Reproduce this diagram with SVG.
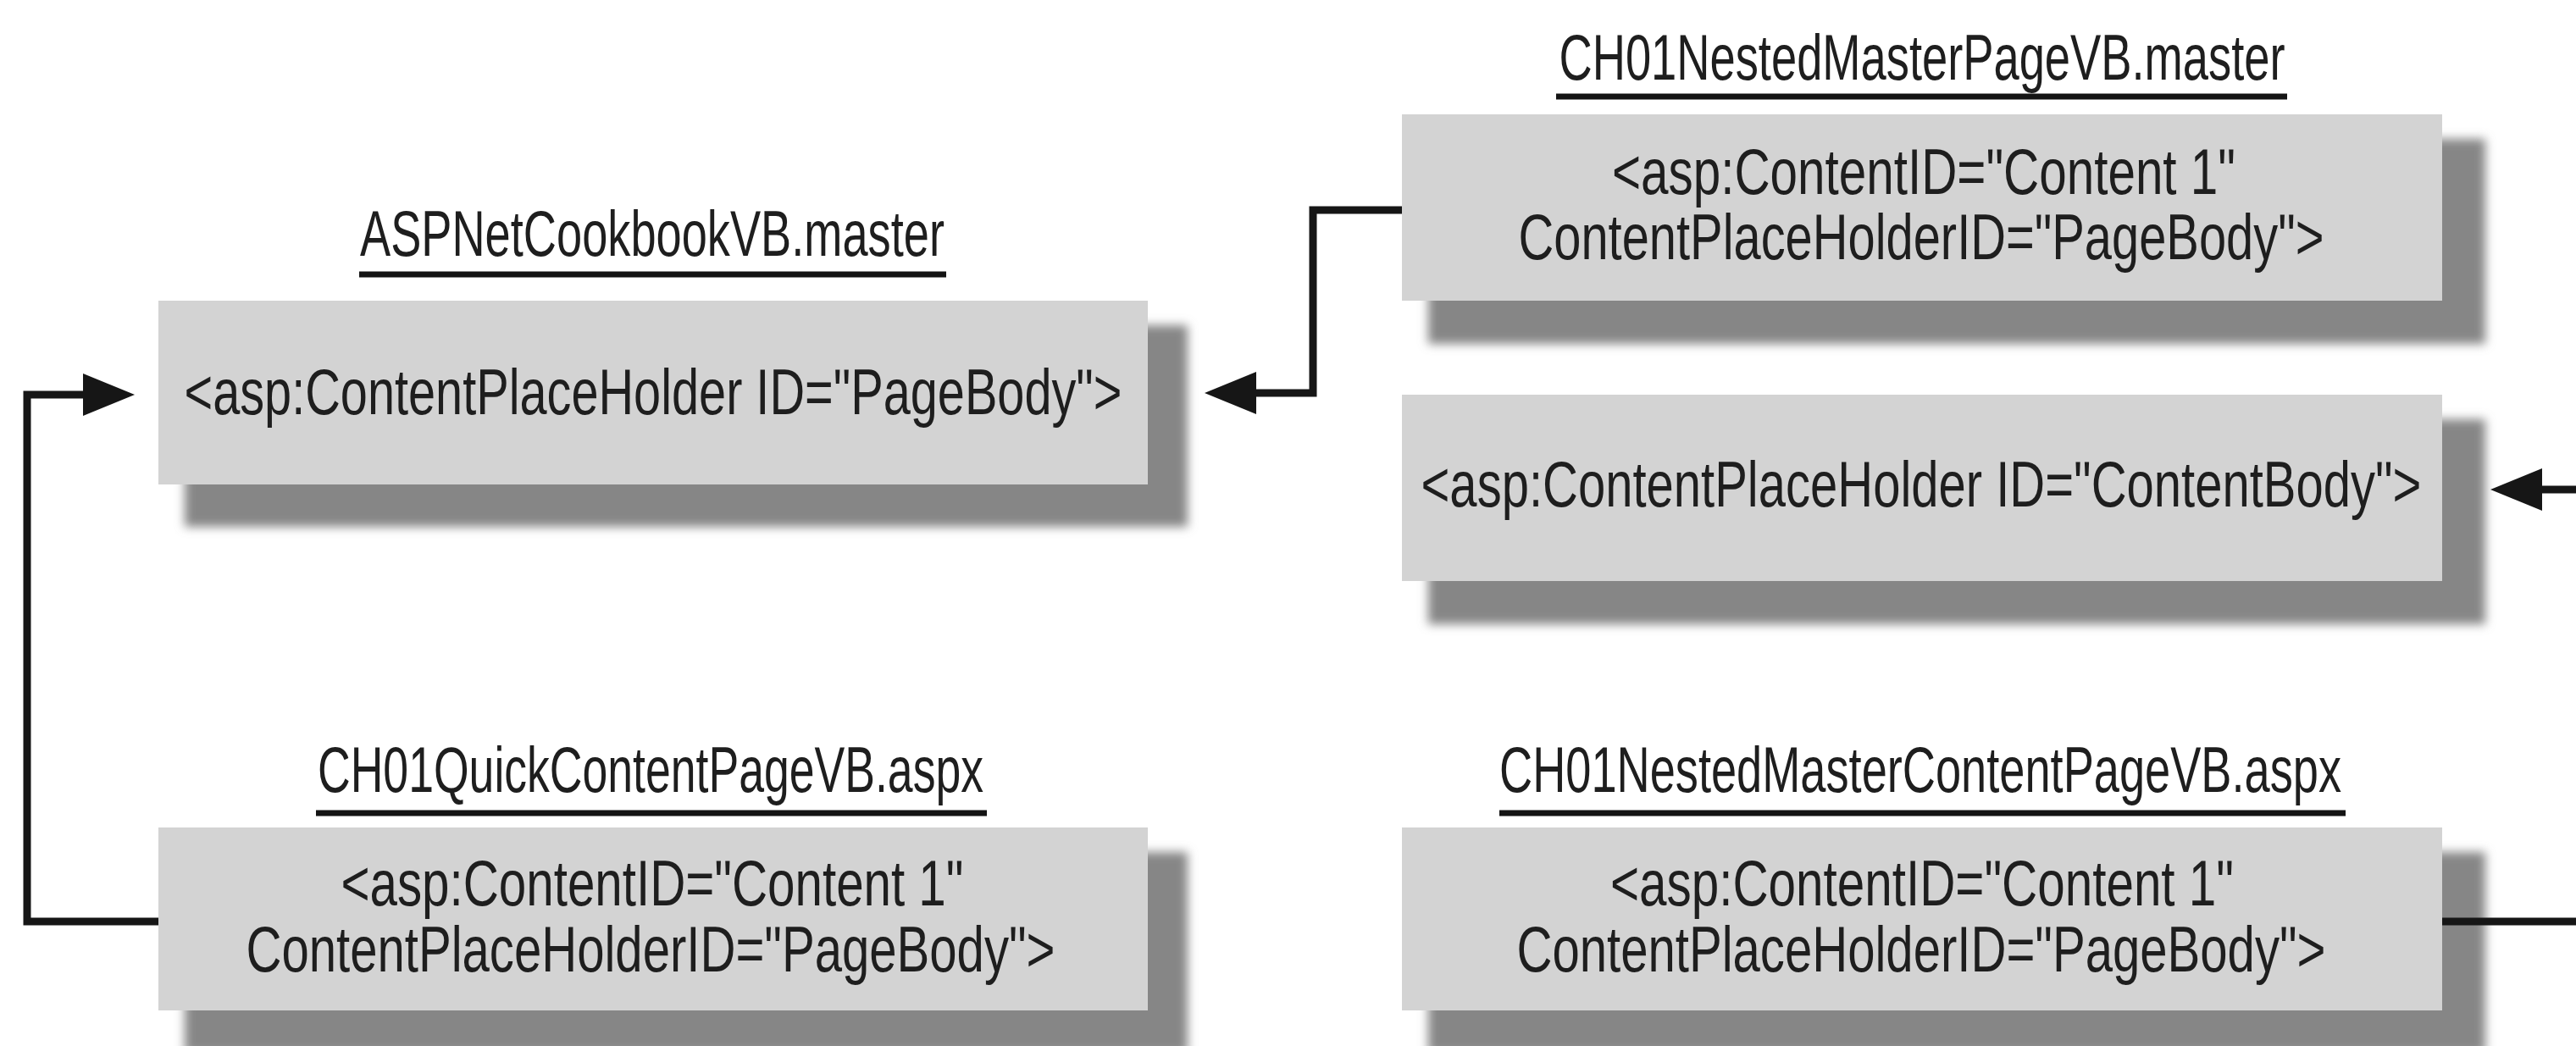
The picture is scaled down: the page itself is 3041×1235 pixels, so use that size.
<svg xmlns="http://www.w3.org/2000/svg" width="3041" height="1235" viewBox="0 0 3041 1235">
  <style>
    .box { fill: #d3d3d3; }
    .shadow { fill: #868686; filter: url(#blur); }
    .txt { font-family: "Liberation Sans", Arial, sans-serif; font-size: 76px; fill: #1e1e1e; text-anchor: middle; }
    .ttl { font-family: "Liberation Sans", Arial, sans-serif; font-size: 76px; fill: #1e1e1e; text-anchor: middle; }
    .ul { stroke: #141414; stroke-width: 7; }
    .conn { fill: none; stroke: #161616; stroke-width: 9; stroke-linejoin: miter; }
  </style>
  <defs>
    <filter id="blur" x="-5%" y="-10%" width="110%" height="120%">
      <feGaussianBlur stdDeviation="6"/>
    </filter>
    <marker id="arrow" markerUnits="userSpaceOnUse" markerWidth="62" markerHeight="52" refX="2" refY="26" orient="auto" viewBox="0 0 62 52">
      <path d="M0,1 L61,26 L0,51 Z" fill="#161616"/>
    </marker>
  </defs>
  <rect width="3041" height="1235" fill="#ffffff"/>

  <g id="aspnet-master">
    <text class="ttl" x="770" y="302" textLength="690" lengthAdjust="spacingAndGlyphs">ASPNetCookbookVB.master</text>
    <line class="ul" x1="424" y1="324" x2="1117" y2="324"/>
    <rect class="shadow" x="218" y="384" width="1184" height="238"/>
    <rect class="box" x="187" y="355" width="1168" height="217"/>
    <text class="txt" x="771" y="489" textLength="1107" lengthAdjust="spacingAndGlyphs">&lt;asp:ContentPlaceHolder ID="PageBody"&gt;</text>
  </g>

  <g id="nested-master-content1">
    <text class="ttl" x="2269" y="94" textLength="857" lengthAdjust="spacingAndGlyphs">CH01NestedMasterPageVB.master</text>
    <line class="ul" x1="1837" y1="114" x2="2700" y2="114"/>
    <rect class="shadow" x="1686" y="164" width="1248" height="242"/>
    <rect class="box" x="1655" y="135" width="1228" height="220"/>
    <text class="txt" x="2271" y="229" textLength="736" lengthAdjust="spacingAndGlyphs">&lt;asp:ContentID="Content 1"</text>
    <text class="txt" x="2268" y="306" textLength="951" lengthAdjust="spacingAndGlyphs">ContentPlaceHolderID="PageBody"&gt;</text>
  </g>

  <g id="nested-master-placeholder">
    <rect class="shadow" x="1686" y="495" width="1248" height="242"/>
    <rect class="box" x="1655" y="466" width="1228" height="220"/>
    <text class="txt" x="2268" y="598" textLength="1181" lengthAdjust="spacingAndGlyphs">&lt;asp:ContentPlaceHolder ID="ContentBody"&gt;</text>
  </g>

  <g id="quick-content-page">
    <text class="ttl" x="768" y="935" textLength="786" lengthAdjust="spacingAndGlyphs">CH01QuickContentPageVB.aspx</text>
    <line class="ul" x1="373" y1="960" x2="1165" y2="960"/>
    <rect class="shadow" x="218" y="1006" width="1184" height="238"/>
    <rect class="box" x="187" y="977" width="1168" height="216"/>
    <text class="txt" x="770" y="1069" textLength="735" lengthAdjust="spacingAndGlyphs">&lt;asp:ContentID="Content 1"</text>
    <text class="txt" x="768" y="1147" textLength="955" lengthAdjust="spacingAndGlyphs">ContentPlaceHolderID="PageBody"&gt;</text>
  </g>

  <g id="nested-master-content-page">
    <text class="ttl" x="2267" y="935" textLength="994" lengthAdjust="spacingAndGlyphs">CH01NestedMasterContentPageVB.aspx</text>
    <line class="ul" x1="1770" y1="960" x2="2769" y2="960"/>
    <rect class="shadow" x="1686" y="1006" width="1248" height="238"/>
    <rect class="box" x="1655" y="977" width="1228" height="216"/>
    <text class="txt" x="2269" y="1069" textLength="736" lengthAdjust="spacingAndGlyphs">&lt;asp:ContentID="Content 1"</text>
    <text class="txt" x="2268" y="1147" textLength="955" lengthAdjust="spacingAndGlyphs">ContentPlaceHolderID="PageBody"&gt;</text>
  </g>

  <g id="connectors">
    <path class="conn" d="M187,1088 L32,1088 L32,466 L100,466" marker-end="url(#arrow)"/>
    <path class="conn" d="M1655,248 L1550,248 L1550,464 L1481,464" marker-end="url(#arrow)"/>
    <path class="conn" d="M3041,578 L2999,578" marker-end="url(#arrow)"/>
    <path class="conn" d="M2883,1088 L3041,1088"/>
  </g>
</svg>
